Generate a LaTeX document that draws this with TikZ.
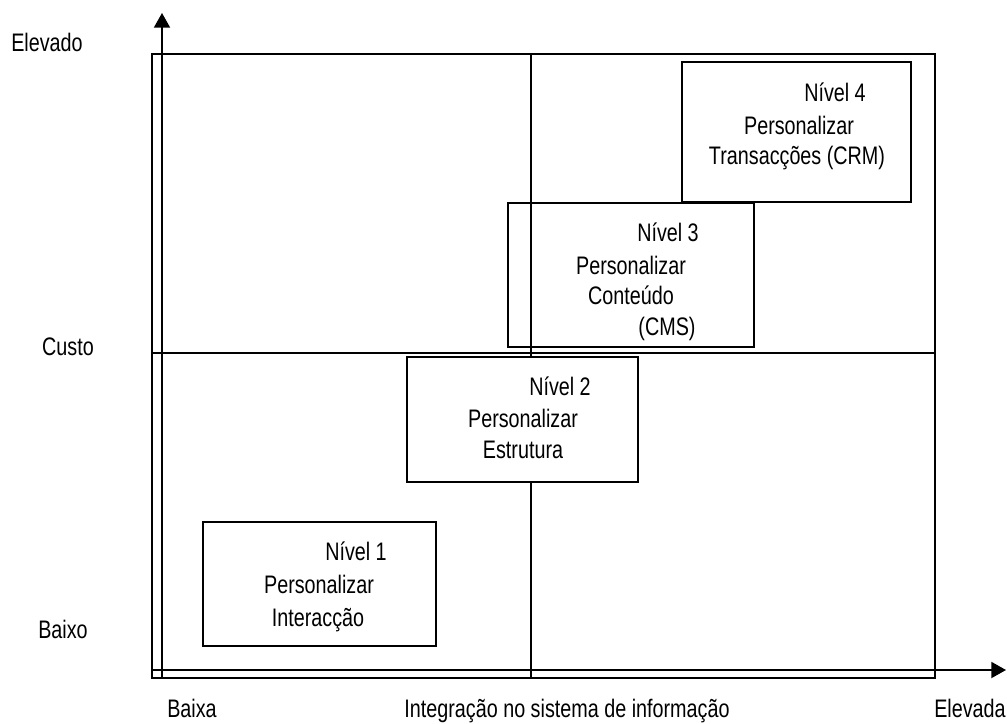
\documentclass[tikz,border=0pt]{standalone}
\usepackage{fontspec}
\setmainfont{Liberation Sans}[FakeStretch=0.78]
\usetikzlibrary{arrows.meta,fit}
\begin{document}
\begin{tikzpicture}[x=0.75pt,y=-0.75pt,
  every node/.style={font=\fontsize{19}{23}\selectfont},
  gridline/.style={line width=1.4pt},
  axisline/.style={line width=1.4pt,-{Triangle[width=12pt,length=11pt]}},
  levelbox/.style={draw,line width=1.4pt,inner sep=0pt},
  txt/.style={anchor=base,inner sep=0pt}]
\useasboundingbox (0,0) rectangle (1007,724);
% frame and quadrant lines
\draw[gridline] (152,54) rectangle (935,678);
\coordinate (vtop) at (531,54);
\coordinate (vbot) at (531,678);
\coordinate (hl) at (152,353);
\coordinate (hr) at (935,353);
\draw[gridline] (vtop) -- (vbot);
\draw[gridline] (hl) -- (hr);
% axes
\coordinate (yb) at (162,678);
\coordinate (yt) at (162,13);
\coordinate (xl) at (152,670);
\coordinate (xr) at (1006,670);
\draw[axisline] (yb) -- (yt);
\draw[axisline] (xl) -- (xr);
% level boxes
\node[levelbox,fit={(203,522) (436,646)}] (n1) {};
\node[levelbox,fill=white,fit={(407,357) (638,482)}] (n2) {};
\node[levelbox,fit={(508,203) (754,347)}] (n3) {};
\node[levelbox,fit={(682,62) (911,202)}] (n4) {};
% box texts
\node[txt] (n1a) at (356,560) {Nível 1};
\node[txt] (n1b) at (319,593) {Personalizar};
\node[txt] (n1c) at (318,626) {Interacção};
\node[txt] (n2a) at (560,395) {Nível 2};
\node[txt] (n2b) at (523,427) {Personalizar};
\node[txt] (n2c) at (523,458) {Estrutura};
\node[txt] (n3a) at (668,241) {Nível 3};
\node[txt] (n3b) at (631,274) {Personalizar};
\node[txt] (n3c) at (631,304) {Conteúdo};
\node[txt] (n3d) at (667,335) {(CMS)};
\node[txt] (n4a) at (835,102) {Nível 4};
\node[txt] (n4b) at (799,134) {Personalizar};
\node[txt] (n4c) at (797,164) {Transacções (CRM)};
% axis labels
\node[txt] (le) at (47,52) {Elevado};
\node[txt] (lc) at (68,355) {Custo};
\node[txt] (lb) at (63,638) {Baixo};
\node[txt] (lxa) at (192,717) {Baixa};
\node[txt] (lxm) at (567,717) {Integração no sistema de informação};
\node[txt] (lxe) at (970,717) {Elevada};
\end{tikzpicture}
\end{document}
